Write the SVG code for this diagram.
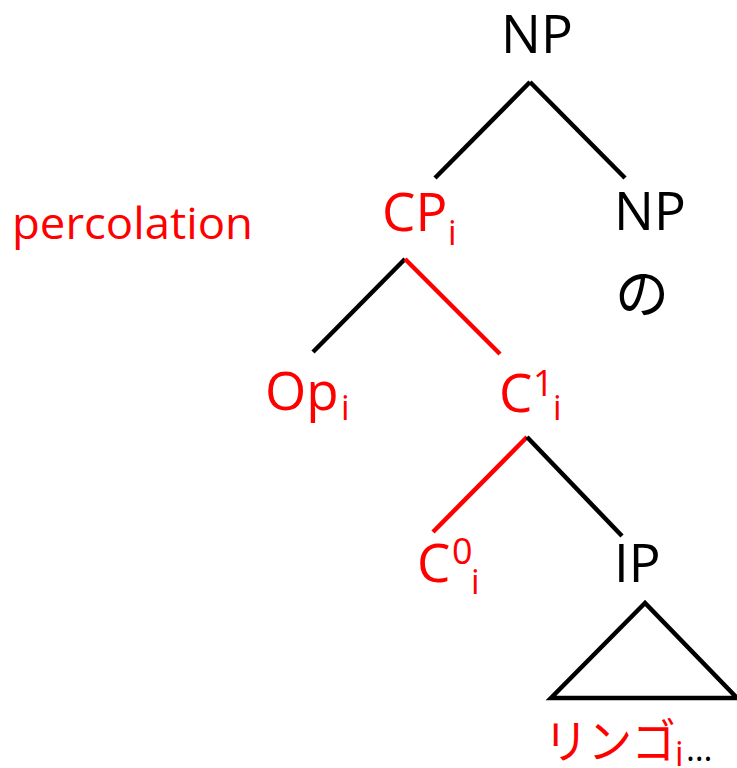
<svg xmlns="http://www.w3.org/2000/svg" width="737" height="768" viewBox="0 0 737 768">
<style>
.t{font-family:"Open Sans","Noto Sans",sans-serif;font-size:53px}
.s{font-family:"Open Sans","Noto Sans",sans-serif;font-size:34px}
.sup{font-family:"Open Sans","Noto Sans",sans-serif;font-size:36px}
.jp{font-family:"Noto Sans CJK JP",sans-serif}
.k{fill:#000}
.r{fill:#ff0000}
.lk{stroke:#000;stroke-width:4.5;fill:none}
.lr{stroke:#ff0000;stroke-width:4.5;fill:none}
</style>
<rect width="737" height="768" fill="#fff"/>
<g id="connectors">
<line class="lk" x1="530" y1="82" x2="435" y2="178"/>
<line class="lk" x1="530" y1="82" x2="625" y2="178"/>
<line class="lk" x1="405" y1="259" x2="313" y2="352"/>
<line class="lr" x1="405" y1="259" x2="500" y2="354"/>
<line class="lr" x1="527" y1="437" x2="433" y2="532"/>
<line class="lk" x1="527" y1="437" x2="622" y2="536"/>
</g>
<g id="np-top"><text class="t k" x="501" y="53">NP</text></g>
<g id="percolation"><text class="r" x="12" y="239" font-family="Open Sans, Noto Sans, sans-serif" font-size="44" textLength="241" lengthAdjust="spacingAndGlyphs">percolation</text></g>
<g id="cp"><text class="t r" x="382" y="231">CP</text><text class="s r" x="448" y="245">i</text></g>
<g id="np-right"><text class="t k" x="614" y="230">NP</text></g>
<g id="no"><text class="jp k" x="615" y="314" font-size="54">の</text></g>
<g id="op"><text class="t r" x="265" y="410">Op</text><text class="s r" x="341" y="420">i</text></g>
<g id="c1"><text class="t r" x="499" y="412">C</text><text class="sup r" x="533" y="396">1</text><text class="s r" x="553" y="420">i</text></g>
<g id="c0"><text class="t r" x="417" y="582">C</text><text class="sup r" x="452" y="564">0</text><text class="s r" x="471" y="594">i</text></g>
<g id="ip"><text class="t k" x="614" y="582">IP</text></g>
<g id="triangle"><polygon class="lk" points="645,603 551,698 737,698" stroke-linejoin="miter"/></g>
<g id="ringo"><text class="jp r" x="544" y="758" font-size="47" textLength="132" lengthAdjust="spacingAndGlyphs">リンゴ</text><text class="s r" x="675" y="766">i</text><text class="k" x="686" y="761" font-family="Open Sans, Noto Sans, sans-serif" font-size="34">…</text></g>
</svg>
